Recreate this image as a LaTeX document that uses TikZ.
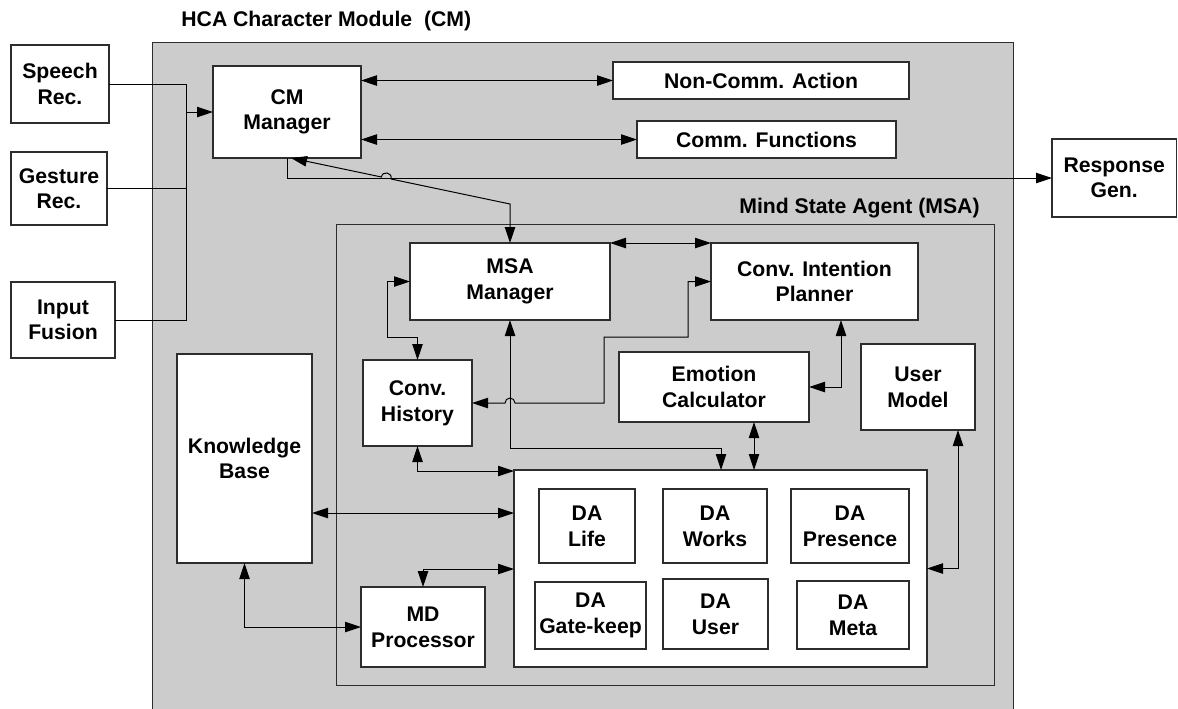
\documentclass[tikz,border=0pt]{standalone}
\usepackage{fontspec}
\setmainfont{Liberation Sans}
\usetikzlibrary{arrows.meta,calc}
\definecolor{cmgray}{RGB}{204,204,204}
\definecolor{edgecol}{RGB}{45,45,45}
\newcommand\mybox[7][box]{\node[#1, minimum width={(#4-#2)*0.5pt}, minimum height={(#5-#3)*0.5pt}] (#6) at ({(#2+#4)/2},{(#3+#5)/2}) {#7};}
\begin{document}
\begin{tikzpicture}[x=0.5pt,y=-0.5pt,
  txt/.style={font=\fontsize{10.6}{12.8}\selectfont\bfseries},
  box/.style={txt, draw=edgecol, line width=0.65pt, fill=white, inner sep=0pt, outer sep=0pt, align=center},
  container/.style={draw=edgecol, line width=0.5pt, inner sep=0pt, outer sep=0pt},
  graycontainer/.style={container, fill=cmgray},
  conn/.style={draw=black, line width=0.5pt},
  tip/.style={-{Triangle[length=8pt,width=5.2pt]}},
  tips/.style={{Triangle[length=8pt,width=5.2pt]}-{Triangle[length=8pt,width=5.2pt]}}]
\useasboundingbox (0,0) rectangle (1178,708);

% containers
\mybox[graycontainer]{152}{42}{1013}{716}{cmod}{}
\mybox[container]{336}{224}{994}{685}{msa}{}
\node[txt, anchor=base west, inner sep=0pt] (title) at (181,26) {HCA Character Module~~(CM)};
\node[txt, anchor=base east, inner sep=0pt] (msalbl) at (980,213) {Mind State Agent (MSA)};

% boxes
\mybox{11}{45}{109}{123}{sr}{Speech\\Rec.}
\mybox{11}{152}{107}{225}{gr}{Gesture\\Rec.}
\mybox{11}{282}{115}{358}{inf}{Input\\Fusion}
\mybox{213}{66}{361}{158}{cm}{CM\\Manager}
\mybox{613}{62}{909}{99}{nca}{Non-Comm. Action}
\mybox{637}{121}{896}{158}{cf}{Comm. Functions}
\mybox{1052}{139}{1176.5}{217}{rg}{Response\\Gen.}
\mybox{410}{243}{610}{320}{mm}{MSA\\Manager}
\mybox{711}{243}{918}{320}{cip}{Conv. Intention\\Planner}
\mybox{363}{360}{472}{446}{ch}{Conv.\\History}
\mybox{619}{352}{809}{422}{ec}{Emotion\\Calculator}
\mybox{861}{344}{975}{430}{um}{User\\Model}
\mybox{177}{354}{312}{563}{kb}{Knowledge\\Base}
\mybox{361}{587}{485}{667}{md}{MD\\Processor}
\mybox{514}{470}{927}{667}{da}{}
\mybox{539}{489}{635}{563}{dal}{DA\\Life}
\mybox{663}{489}{767}{563}{daw}{DA\\Works}
\mybox{791}{489}{909}{563}{dap}{DA\\Presence}
\mybox{535}{582}{646}{649}{dag}{DA\\Gate-keep}
\mybox{663}{579}{768}{649}{dau}{DA\\User}
\mybox{797}{581}{909}{649}{dam}{DA\\Meta}

% helper coordinates
\coordinate (jb) at (186,320);
\coordinate (rc) at (287,178);
\coordinate (dg) at (510,204);
\coordinate (xd) at (291,0);
\coordinate (m1) at (721,448);
\coordinate (xe) at (754,0);
\coordinate (xc) at (841,0);
\coordinate (xu) at (958,0);
\coordinate (y1) at (0,471);
\coordinate (y2) at (0,513);
\coordinate (y3) at (0,569);

% inputs to CM Manager
\draw[conn] (sr.east) -| (jb) -- (inf.east);
\draw[conn] (gr.east) -- (gr.east -| jb);
\draw[conn,tip] (cm.west -| jb) -- (cm.west);

% CM Manager outputs
\draw[conn,tips] (cm.east |- nca.west) -- (nca.west);
\draw[conn,tips] (cm.east |- cf.west) -- (cf.west);
\draw[conn,tip] (cm.south -| rc) -- (rc) -- (rg.west);

% CM Manager <-> MSA Manager (with hop over response line)
\coordinate (cmend) at (cm.south -| xd);
\coordinate (hx) at ($(cmend)!0.4348!(dg)$);
\coordinate (hA) at ($(hx)!2.5pt!(cmend)$);
\coordinate (hB) at ($(hx)!2.5pt!(dg)$);
\coordinate (cA) at ($(hA)!3.4pt!90:(hx)$);
\coordinate (cB) at ($(hB)!3.4pt!-90:(hx)$);
\draw[conn,tips] (mm.north) -- (dg) -- (hB) .. controls (cB) and (cA) .. (hA) -- (cmend);

% MSA internal
\draw[conn,tips] (mm.north east) -- (cip.north west);
\draw[conn,tips] (mm.west) -| (387,337) -| (ch.north);
\draw[conn,tips] (cip.west) -| (688,337) -| (604,403) -- (515,403)
   arc[start angle=0,end angle=180,radius=2.5pt] -- (ch.east);
\draw[conn,tips] (mm.south) |- (m1) -- (m1 |- da.north);
\draw[conn,tips] (ec.south -| xe) -- (da.north -| xe);
\draw[conn,tips] (cip.south -| xc) |- (ec.east);
\draw[conn,tips] (ch.south) |- (da.west |- y1);
\draw[conn,tips] (kb.east |- y2) -- (da.west |- y2);
\draw[conn,tips] (kb.south) |- (md.west);
\draw[conn,tips] (md.north) |- (da.west |- y3);
\draw[conn,tips] (da.east) -| (um.south -| xu);
\end{tikzpicture}
\end{document}
